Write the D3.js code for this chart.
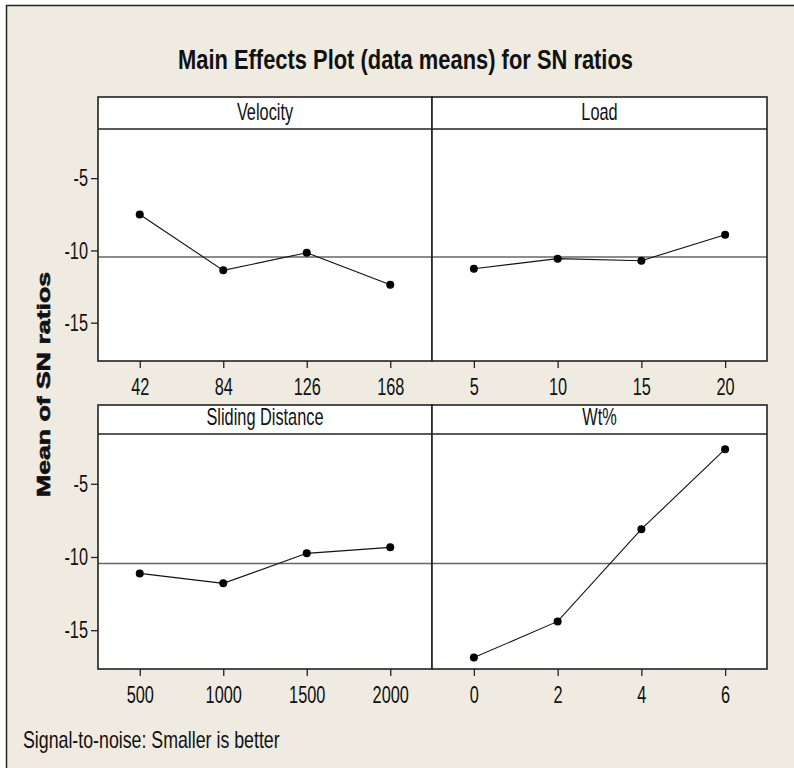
<!DOCTYPE html>
<html>
<head>
<meta charset="utf-8">
<script src="https://cdn.jsdelivr.net/npm/d3@7/dist/d3.min.js"></script>
<style>
  html, body { margin: 0; padding: 0; background: #ffffff; }
  svg { display: block; }
  text { font-family: "Liberation Sans", Arial, sans-serif; fill: #111; }
</style>
</head>
<body>
<svg id="chart" width="794" height="768"></svg>
<script>
// ---- data ----
const chartTitle = "Main Effects Plot (data means) for SN ratios";
const yAxisLabel = "Mean of SN ratios";
const footnote = "Signal-to-noise: Smaller is better";
const factorNames = ["Velocity", "Load", "Sliding Distance", "Wt%"];
const velocityLevels = ["42", "84", "126", "168"];
const velocitySN = [-7.51, -11.38, -10.16, -12.37];
const loadLevels = ["5", "10", "15", "20"];
const loadSN = [-11.27, -10.57, -10.71, -8.92];
const slidingLevels = ["500", "1000", "1500", "2000"];
const slidingSN = [-11.12, -11.80, -9.75, -9.34];
const wtLevels = ["0", "2", "4", "6"];
const wtSN = [-16.87, -14.40, -8.10, -2.64];
const grandMean = -10.45;
const yTicks = [-5, -10, -15];
const yDomain = [-17.65, -1.6];

const svg = d3.select("#chart");

// squeeze text horizontally (condensed look)
function squeeze(sel, factor) {
  sel.each(function () {
    const w = this.getComputedTextLength();
    d3.select(this).attr("textLength", w * factor).attr("lengthAdjust", "spacingAndGlyphs");
  });
}

// background frame
svg.append("rect").attr("x", 6).attr("y", 5).attr("width", 794).attr("height", 770).attr("fill", "#efebe1");
svg.append("line").attr("x1", 6).attr("x2", 794).attr("y1", 5.5).attr("y2", 5.5).attr("stroke", "#222").attr("stroke-width", 1.5);
svg.append("line").attr("x1", 6.5).attr("x2", 6.5).attr("y1", 5).attr("y2", 768).attr("stroke", "#222").attr("stroke-width", 1.5);

// title
svg.append("text").attr("x", 405.5).attr("y", 69).attr("text-anchor", "middle")
  .attr("font-size", 27).attr("font-weight", "bold").text(chartTitle)
  .attr("textLength", 455).attr("lengthAdjust", "spacingAndGlyphs");

// y axis label
svg.append("text").attr("transform", "translate(50,384.5) rotate(-90)").attr("text-anchor", "middle")
  .attr("font-size", 18).attr("font-weight", "bold").attr("font-family", "DejaVu Sans, Verdana, sans-serif")
  .attr("stroke", "#111").attr("stroke-width", 0.6)
  .text(yAxisLabel)
  .attr("textLength", 225).attr("lengthAdjust", "spacingAndGlyphs");

// footnote
svg.append("text").attr("x", 23).attr("y", 748).attr("font-size", 24).text(footnote)
  .call(squeeze, 0.74);

const panels = [
  { name: factorNames[0], levels: velocityLevels, values: velocitySN, x0: 98, x1: 432, top: 97, strip: 129, bottom: 361, yAxis: true },
  { name: factorNames[1], levels: loadLevels, values: loadSN, x0: 432, x1: 767, top: 97, strip: 129, bottom: 361, yAxis: false },
  { name: factorNames[2], levels: slidingLevels, values: slidingSN, x0: 98, x1: 432, top: 405, strip: 434, bottom: 669, yAxis: true },
  { name: factorNames[3], levels: wtLevels, values: wtSN, x0: 432, x1: 767, top: 405, strip: 434, bottom: 669, yAxis: false }
];

panels.forEach(p => {
  const g = svg.append("g");
  const x = d3.scalePoint().domain(p.levels).range([p.x0, p.x1]).padding(0.5);
  const y = d3.scaleLinear().domain(yDomain).range([p.bottom, p.strip]);

  g.append("rect").attr("x", p.x0).attr("y", p.top).attr("width", p.x1 - p.x0).attr("height", p.bottom - p.top)
    .attr("fill", "#ffffff");

  // reference (grand mean) line
  g.append("line").attr("x1", p.x0).attr("x2", p.x1).attr("y1", y(grandMean)).attr("y2", y(grandMean))
    .attr("stroke", "#666").attr("stroke-width", 1.5);

  // data line
  const pts = p.levels.map((l, i) => [l, p.values[i]]);
  g.append("path").datum(pts)
    .attr("d", d3.line().x(d => x(d[0])).y(d => y(d[1])))
    .attr("fill", "none").attr("stroke", "#111").attr("stroke-width", 1.1);
  g.selectAll("circle").data(pts).join("circle")
    .attr("cx", d => x(d[0])).attr("cy", d => y(d[1])).attr("r", 4).attr("fill", "#000");

  // panel border and strip
  g.append("rect").attr("x", p.x0).attr("y", p.top).attr("width", p.x1 - p.x0).attr("height", p.bottom - p.top)
    .attr("fill", "none").attr("stroke", "#222").attr("stroke-width", 1.6);
  g.append("line").attr("x1", p.x0).attr("x2", p.x1).attr("y1", p.strip).attr("y2", p.strip)
    .attr("stroke", "#222").attr("stroke-width", 1.6);
  g.append("text").attr("x", (p.x0 + p.x1) / 2).attr("y", p.strip - 9).attr("text-anchor", "middle")
    .attr("font-size", 24).text(p.name).call(squeeze, 0.68);

  // x axis
  const xa = g.append("g").attr("transform", `translate(0,${p.bottom})`)
    .call(d3.axisBottom(x).tickSize(7).tickPadding(10));
  xa.select(".domain").remove();
  xa.selectAll(".tick line").attr("stroke", "#222").attr("stroke-width", 1.3);
  xa.selectAll(".tick text").attr("font-size", 24).attr("font-family", "Liberation Sans, Arial, sans-serif")
    .attr("fill", "#111").call(squeeze, 0.68);

  if (p.yAxis) {
    const ya = g.append("g").attr("transform", `translate(${p.x0},0)`)
      .call(d3.axisLeft(y).tickValues(yTicks).tickFormat(d => String(d)).tickSize(7).tickPadding(3));
    ya.select(".domain").remove();
    ya.selectAll(".tick line").attr("stroke", "#222").attr("stroke-width", 1.3);
    ya.selectAll(".tick text").attr("font-size", 24).attr("font-family", "Liberation Sans, Arial, sans-serif")
      .attr("fill", "#111").call(squeeze, 0.68);
  }
});
</script>
</body>
</html>
